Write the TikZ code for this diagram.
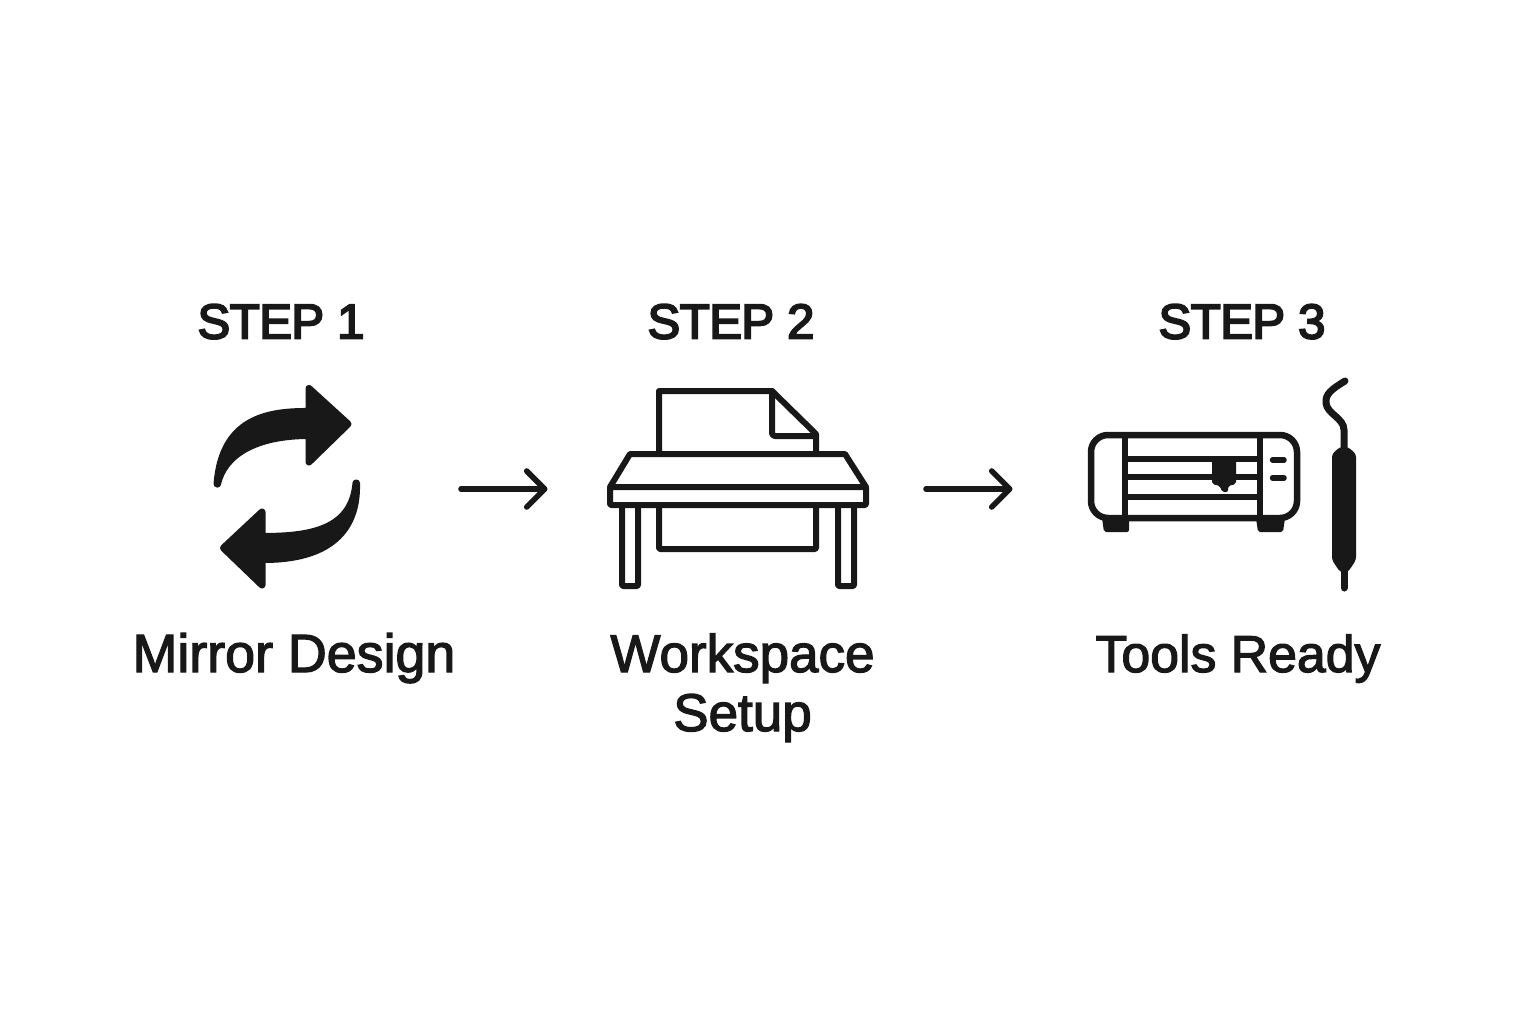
\documentclass[tikz,border=0pt]{standalone}
\usepackage{fontspec}
\setmainfont{Liberation Sans}
\newfontfamily\stepfont[FakeBold=4,LetterSpace=-1.0]{Liberation Sans}
\newfontfamily\labfont[FakeBold=2.4]{Liberation Sans}
\usetikzlibrary{arrows.meta}
\definecolor{ink}{HTML}{181818}
\tikzset{
  ln/.style={draw=ink,line width=6pt,line join=round,line cap=round},
  steplabel/.style={text=ink,anchor=base,inner sep=0pt,font=\stepfont\fontsize{49}{49}\selectfont},
  caplabel/.style={text=ink,anchor=base,inner sep=0pt,align=center,font=\labfont\fontsize{53}{59}\selectfont},
  flow/.style={draw=ink,line width=5.6pt,line cap=round,-{Straight Barb[length=18pt,width=36pt,line width=5.6pt,round]}},
  solid ink/.style={fill=ink,draw=ink,line width=7pt,line join=round}
}
\begin{document}
\begin{tikzpicture}[x=1pt,y=-1pt]
\path[use as bounding box,fill=white] (0,0) rectangle (1536,1024);
% titles
\node[steplabel] (s1) at (281,338.5) {STEP 1};
\node[steplabel] (s2) at (731,338.5) {STEP 2};
\node[steplabel] (s3) at (1242,338.5) {STEP 3};
% captions
\node[caplabel,font=\labfont\fontsize{53.8}{59}\selectfont] (c1) at (294,672) {Mirror Design};
\node[caplabel] (c2) at (742.5,731) {Workspace\\Setup};
\node[caplabel,font=\labfont\fontsize{51.8}{59}\selectfont] (c3) at (1238,672) {Tools Ready};
% icon 1
\path[solid ink] (348,424) -- (309,388.5) -- (309,411.5)
  .. controls (265,411) and (222,420) .. (217,484)
  -- (217.5,484)
  .. controls (224,455) and (255,435.5) .. (309,435.5)
  -- (309,462) -- cycle;
\path[solid ink] (223.5,548) -- (262,512) -- (262,536.5)
  .. controls (310,536.5) and (352,530) .. (356,483)
  -- (356.5,483)
  .. controls (358,530) and (330,560) .. (262,559.5)
  -- (262,585) -- cycle;
% icon 2
\draw[ln] (659,454) -- (659,391) -- (772,391) -- (816,434) -- (816,454);
\draw[ln,rounded corners=3pt] (772,391) -- (772,436) -- (816,436);
\draw[ln] (610,487) -- (630,454) -- (845,454) -- (866,487);
\draw[ln,rounded corners=1pt] (610,487) rectangle (866,505);
\draw[ln,rounded corners=1pt] (622,505) -- (622,586) -- (638,586) -- (638,505);
\draw[ln,rounded corners=1pt] (838,505) -- (838,586) -- (854,586) -- (854,505);
\draw[ln,rounded corners=1pt] (659,505) -- (659,549) -- (816,549) -- (816,505);
% icon 3
\draw[draw=ink,line width=6.5pt,rounded corners=17pt] (1091,435) rectangle (1297,518);
\draw[draw=ink,line width=6.5pt] (1125,435) -- (1125,518) (1260,435) -- (1260,518);
\draw[draw=ink,line width=5.5pt] (1125,459) -- (1260,459) (1125,477) -- (1260,477) (1125,497) -- (1260,497);
\fill[ink,rounded corners=2pt] (1212,458) -- (1236,458) -- (1236,484) -- (1228,486) -- (1228,492) -- (1222,492) -- (1220,486) -- (1212,484) -- cycle;
\draw[draw=ink,line width=5.5pt,line cap=round] (1272.5,460) -- (1284,460) (1272.5,478) -- (1284,478);
\fill[ink,rounded corners=2pt] (1102,518) -- (1129,518) -- (1129,532) -- (1104,532) -- cycle;
\fill[ink,rounded corners=2pt] (1256,518) -- (1285,518) -- (1283,532) -- (1258,532) -- cycle;
\draw[draw=ink,line width=7pt,line cap=round] (1345,381) .. controls (1332,389) and (1325,394) .. (1326,403)
  .. controls (1327,414) and (1344,418) .. (1344,430) -- (1344,450);
\fill[ink,rounded corners=3pt] (1340,447) -- (1348,447) -- (1356,454) -- (1356,560) -- (1348,572) -- (1340,572) -- (1332,560) -- (1332,454) -- cycle;
\draw[draw=ink,line width=7pt,line cap=round] (1344,570) -- (1344,588);
% connectors
\coordinate (a1) at (461,489); \coordinate (b1) at (547.5,489);
\coordinate (a2) at (926,489); \coordinate (b2) at (1012.5,489);
\draw[flow] (a1) -- (b1);
\draw[flow] (a2) -- (b2);
\end{tikzpicture}
\end{document}
